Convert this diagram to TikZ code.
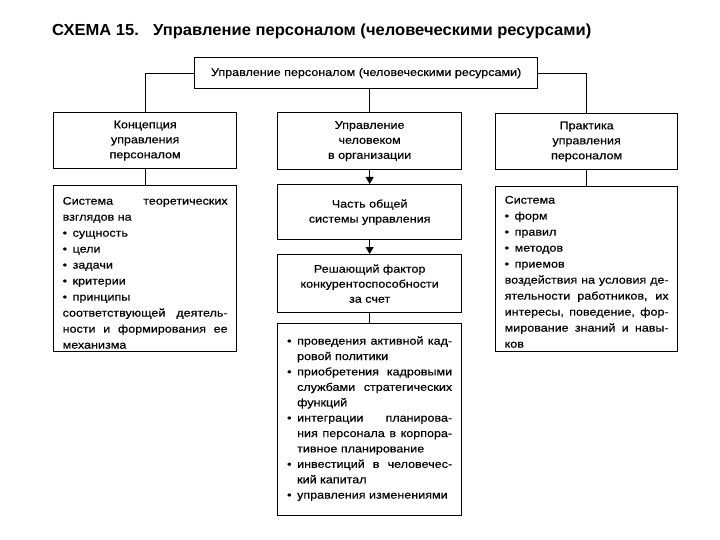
\documentclass[tikz,border=0pt]{standalone}
\usepackage{fontspec}
\setmainfont{Liberation Sans}[FakeStretch=1.14, FakeBold=0.4]
\newfontfamily\titlefont{Liberation Sans}[FakeStretch=1.035]
\usetikzlibrary{arrows.meta}
\newcommand\jl[1]{\makebox[\linewidth][s]{#1}}
\newcommand\jlb[1]{\makebox[\dimexpr\linewidth-10pt\relax][s]{#1}}
\newcommand\bul{\makebox[10pt][l]{•}}
\newcommand\bitem{\par\noindent\hangindent=10pt\hangafter=1\bul}
\newcommand\tallbox[4]{\parbox[c][#2][t]{#1}{\fontsize{11}{#3}\selectfont #4}}
\begin{document}
\begin{tikzpicture}[x=1pt,y=-1pt,
  box/.style={draw, line width=1.3pt, anchor=north west, align=center,
    font=\fontsize{11}{15}\selectfont, inner sep=0pt},
  tall/.style={draw, line width=1.3pt, anchor=north west, inner xsep=9pt, inner ysep=0pt},
  link/.style={line width=1pt},
  arr/.style={line width=1pt, -{Triangle[width=8pt,length=7pt]}}]
\fill[white] (0,0) rectangle (720,540);
\useasboundingbox (0,0) rectangle (720,540);

\node[anchor=base west, inner sep=0pt, font=\titlefont\bfseries\fontsize{16}{19}\selectfont] (title) at (52,36)
  {СХЕМА 15.\hspace{0.5em} Управление персоналом (человеческими ресурсами)};

\node[box, minimum width=343pt, minimum height=31pt] (top) at (194,57)
  {Управление персоналом (человеческими ресурсами)};

\node[box, minimum width=183pt, minimum height=56pt] (k1) at (53,112)
  {Концепция\\управления\\персоналом};
\node[box, minimum width=184pt, minimum height=57pt] (k2) at (277,112)
  {Управление\\человеком\\в организации};
\node[box, minimum width=182pt, minimum height=56pt] (k3) at (495,113)
  {Практика\\управления\\персоналом};

\node[tall] (s1) at (53,185) {\tallbox{165pt}{166pt}{16}{%
  \rule{0pt}{19pt}\jl{Система теоретических}\\
  взглядов на\\
  \bul сущность\\
  \bul цели\\
  \bul задачи\\
  \bul критерии\\
  \bul принципы\\
  \jl{соответствующей деятель-}\\
  \jl{ности и формирования ее}\\
  механизма}};

\node[box, minimum width=184pt, minimum height=55pt] (m1) at (277,184)
  {Часть общей\\системы управления};
\node[box, minimum width=184pt, minimum height=58pt] (m2) at (277,254)
  {Решающий фактор\\конкурентоспособности\\за счет};

\node[tall, inner xsep=9.5pt] (m3) at (277,323) {\tallbox{165pt}{192pt}{15.4}{%
  \bitem\rule{0pt}{21pt}\jlb{проведения активной кад-}\\ровой политики
  \bitem\jlb{приобретения кадровыми}\\\jlb{службами стратегических}\\функций
  \bitem\jlb{интеграции планирова-}\\\jlb{ния персонала в корпора-}\\тивное планирование
  \bitem\jlb{инвестиций в человечес-}\\кий капитал
  \bitem управления изменениями\par}};

\node[tall] (s3) at (495,186) {\tallbox{164pt}{165pt}{16}{%
  \rule{0pt}{17pt}Система\\
  \bul форм\\
  \bul правил\\
  \bul методов\\
  \bul приемов\\
  \jl{воздействия на условия де-}\\
  \jl{ятельности работников, их}\\
  \jl{интересы, поведение, фор-}\\
  \jl{мирование знаний и навы-}\\
  ков}};

\draw[link] (top.west) -| (k1.north);
\draw[link] (top.east) -| (k3.north);
\draw[link] (top.south -| k2.north) -- (k2.north);
\draw[link] (k1.south) -- (s1.north);
\draw[link] (k3.south) -- (s3.north);
\draw[arr] (k2.south) -- (m1.north);
\draw[arr] (m1.south) -- (m2.north);
\draw[link] (m2.south) -- (m3.north);
\end{tikzpicture}
\end{document}
